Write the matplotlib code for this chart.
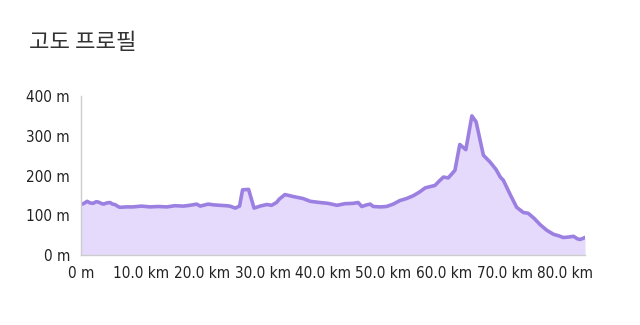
import matplotlib
matplotlib.use("Agg")
import matplotlib.pyplot as plt
from matplotlib import font_manager

# distance (km) and elevation (m)
dist_km = [0.0, 0.5, 1.0, 1.5, 2.0, 2.5, 2.9, 3.3, 3.7, 4.3, 4.8, 5.2, 5.6, 6.0, 6.4,
           7.5, 8.6, 10.0, 11.4, 12.8, 14.2, 15.5, 16.9, 18.0, 19.1, 19.7,
           21.0, 22.0, 23.0, 24.0, 24.6, 25.5, 26.2, 26.7, 27.7, 28.0, 28.6, 29.6,
           30.7, 31.5, 32.3, 32.8, 33.7, 35.1, 36.7, 37.9, 39.5, 40.8, 42.3, 43.6,
           45.0, 45.8, 46.4, 47.2, 47.8, 48.3, 49.5, 50.5, 51.6, 52.7, 53.8, 54.9,
           55.9, 56.9, 57.7, 58.5, 59.2, 59.9, 60.7, 61.8, 62.6, 63.6, 64.6, 65.3,
           66.5, 67.6, 68.6, 69.3, 69.8, 71.0, 72.0, 73.1, 73.9, 74.9, 75.9, 77.0,
           78.1, 79.0, 79.7, 80.5, 81.4, 82.0, 82.5, 83.3]
elev_m = [127, 130, 135, 131, 130, 134, 133, 130, 128, 131, 132, 128, 127, 123, 120,
          121, 121, 123, 121, 122, 121, 124, 123, 125, 128, 123,
          128, 126, 125, 124, 123, 118, 123, 164, 165, 149, 118, 123,
          127, 125, 132, 141, 152, 147, 142, 135, 132, 130, 125, 129,
          130, 132, 122, 126, 128, 122, 121, 122, 128, 137, 142, 149,
          158, 169, 172, 175, 186, 196, 194, 213, 278, 265, 350, 335,
          251, 234, 215, 196, 188, 150, 120, 107, 105, 92, 76, 62,
          52, 48, 44, 45, 47, 41, 39, 44]

x_ticks = [0, 10, 20, 30, 40, 50, 60, 70, 80]
x_labels = ["0 m", "10.0 km", "20.0 km", "30.0 km", "40.0 km", "50.0 km",
            "60.0 km", "70.0 km", "80.0 km"]
y_ticks = [0, 100, 200, 300, 400]
y_labels = ["0 m", "100 m", "200 m", "300 m", "400 m"]

# a regular-weight narrow font for the tick labels, if there is one
narrow = None
for f in font_manager.fontManager.ttflist:
    is_narrow = f.stretch in ("condensed", "semi-condensed") or "Condensed" in f.name or "Narrow" in f.name
    if is_narrow and f.weight in (400, "normal", "regular") and f.style == "normal":
        narrow = f
        break

fig = plt.figure(figsize=(6.4, 3.25), dpi=100)
ax = fig.add_axes([0.1266, 0.2154, 0.7875, 0.4892])

ax.fill_between(dist_km, elev_m, 0, color="#e5dafc", lw=0)
ax.plot(dist_km, elev_m, color="#9b80e2", lw=2.6, solid_joinstyle="round")

ax.set_xlim(0, dist_km[-1])
ax.set_ylim(0, 400)
ax.set_xticks(x_ticks)
ax.set_xticklabels(x_labels)
ax.set_yticks(y_ticks)
ax.set_yticklabels(y_labels)
ax.tick_params(length=0, colors="#222222", pad=8)
ax.tick_params(axis="x", pad=8)

if narrow is not None:
    tick_font = font_manager.FontProperties(fname=narrow.fname, size=11)
else:
    tick_font = font_manager.FontProperties(family="Roboto", size=10.5)
for lab in ax.get_xticklabels() + ax.get_yticklabels():
    lab.set_fontproperties(tick_font)

for s in ["top", "right"]:
    ax.spines[s].set_visible(False)
for s in ["left", "bottom"]:
    ax.spines[s].set_color("#cccccc")
    ax.spines[s].set_linewidth(1)

fig.text(0.045, 0.87, "고도 프로필", fontsize=16, color="#333333",
         family=['Noto Sans CJK KR', 'DejaVu Sans'], va="center")

fig.savefig("out.png", dpi=100, facecolor="white")
